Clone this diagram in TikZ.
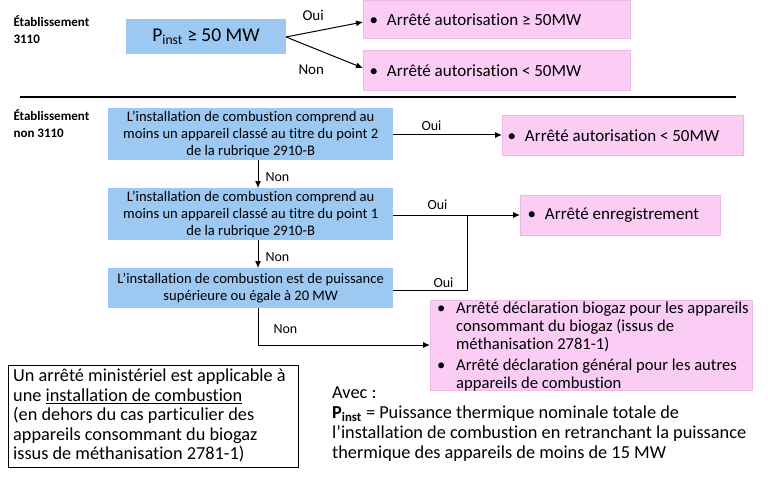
\documentclass[tikz,border=0pt]{standalone}
\usepackage{fontspec}
\setmainfont{Carlito}[Ligatures=NoCommon]
\usetikzlibrary{arrows.meta}
\begin{document}
\begin{tikzpicture}[x=1pt,y=-1pt,
  blue/.style={fill=blueF,draw=none,inner sep=1pt},
  pink/.style={fill=pinkF,draw=pinkD,line width=0.5pt},
  arr/.style={-{Latex[length=7pt,width=6pt]},line width=1pt},
  ln/.style={line width=1pt},
  lab/.style={font=\fontsize{14}{16}\selectfont,anchor=base west},
  txt/.style={font=\fontsize{14.6}{17}\selectfont},
  big/.style={font=\fontsize{17}{19}\selectfont}]
\definecolor{blueF}{HTML}{9DC8F2}
\definecolor{pinkF}{HTML}{FBCDF5}
\definecolor{pinkD}{HTML}{F0B8E8}
\useasboundingbox (0,0) rectangle (768,484);
% top section
\node[anchor=north west,align=left,font=\fontsize{13}{17}\selectfont\bfseries] (e1) at (10,12) {Établissement\\3110};
\node[blue,minimum width=160,minimum height=35,font=\fontsize{19.5}{22}\selectfont] (p) at (206,37) {P\textsubscript{inst} ≥ 50 MW};
\node[pink,minimum width=267,minimum height=38,anchor=north west] (r1) at (363,0) {};
\node[big,anchor=west] at (r1.west) {\hspace{3pt}•\hspace{9pt}Arrêté autorisation ≥ 50MW};
\node[pink,minimum width=267,minimum height=40,anchor=north west] (r2) at (363,50) {};
\node[big,anchor=west] at (r2.west) {\hspace{3pt}•\hspace{9pt}Arrêté autorisation < 50MW};
\coordinate (ps) at (286,37);
\draw[arr] (ps) -- (r1.west|-0,22);
\draw[arr] (ps) -- (r2.west|-0,68);
\node[lab,font=\fontsize{15}{17}\selectfont] at (299,21) {Oui};
\node[lab,font=\fontsize{15}{17}\selectfont] at (295,75) {Non};
\draw[line width=2.2pt] (20,97) -- (736,97);
% bottom section
\node[anchor=north west,align=left,font=\fontsize{13}{17}\selectfont\bfseries] (e2) at (10,106) {Établissement\\non 3110};
\node[blue,minimum width=285,minimum height=52,anchor=north west,align=center,txt] (a) at (108,108) {L’installation de combustion comprend au\\moins un appareil classé au titre du point 2\\de la rubrique 2910-B};
\node[blue,minimum width=285,minimum height=52,anchor=north west,align=center,txt] (b) at (108,188) {L’installation de combustion comprend au\\moins un appareil classé au titre du point 1\\de la rubrique 2910-B};
\node[blue,minimum width=285,minimum height=40,anchor=north west,align=center,txt] (c) at (108,268) {L’installation de combustion est de puissance\\supérieure ou égale à 20 MW};
\node[pink,minimum width=241,minimum height=40,anchor=north west] (r3) at (502,115) {};
\node[big,anchor=west] at (r3.west) {\hspace{2pt}•\hspace{9pt}Arrêté autorisation < 50MW};
\node[pink,minimum width=200,minimum height=40,anchor=north west] (r4) at (520,195) {};
\node[big,anchor=west] at (r4.west) {\hspace{4pt}•\hspace{9pt}Arrêté enregistrement};
\node[pink,minimum width=322,minimum height=90,anchor=north west] (r5) at (430,300) {};
\node[anchor=north west,align=left,font=\fontsize{16.6}{18}\selectfont,inner sep=1pt] at (433,301) {\makebox[22pt][l]{\hspace{3pt}•}Arrêté déclaration biogaz pour les appareils\\\hspace{22pt}consommant du biogaz (issus de\\\hspace{22pt}méthanisation 2781-1)\\[3pt]\makebox[22pt][l]{\hspace{3pt}•}Arrêté déclaration général pour les autres\\\hspace{22pt}appareils de combustion};
\draw[arr] (a.east|-0,135) -- (r3.west|-0,135);
\node[lab] at (418,131) {Oui};
\draw[arr] (b.east|-0,215) -- (r4.west|-0,215);
\node[lab] at (424,209) {Oui};
\coordinate (j) at (467,215);
\draw[ln] (c.east|-0,290) -| (j);
\node[lab] at (430,287) {Oui};
\draw[arr] (258,160) -- (258,188);
\node[lab] at (262,181) {Non};
\draw[arr] (258,240) -- (258,268);
\node[lab] at (262,261) {Non};
\coordinate (k) at (258,345);
\draw[ln] (258,308) -- (k);
\draw[arr] (k) -- (r5.west|-k);
\node[lab] at (270,333) {Non};
% notes
\node[draw,line width=1pt,minimum width=290,minimum height=102,anchor=north west] (n) at (8,365) {};
\node[anchor=north west,align=left,font=\fontsize{18.3}{19.5}\selectfont,inner sep=1pt] at (12,368) {Un arrêté ministériel est applicable à\\une \underline{installation de combustion}\\(en dehors du cas particulier des\\appareils consommant du biogaz\\issus de méthanisation 2781-1)};
\node[anchor=north west,align=left,font=\fontsize{18.3}{20}\selectfont,inner sep=1pt] at (331,386) {Avec :\\\textbf{P\textsubscript{inst}} = Puissance thermique nominale totale de\\l’installation de combustion en retranchant la puissance\\thermique des appareils de moins de 15 MW};
\end{tikzpicture}
\end{document}
